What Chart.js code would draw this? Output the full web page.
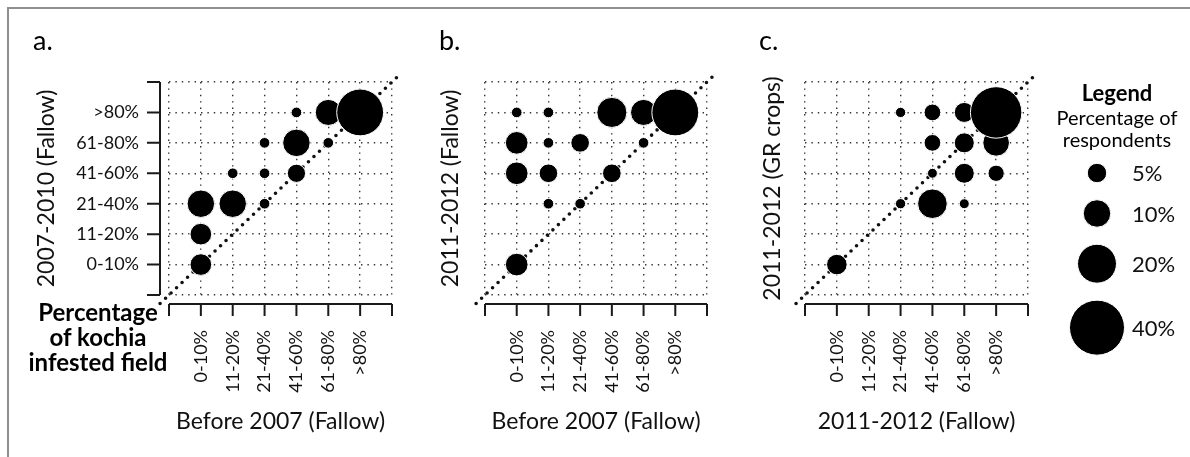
<!DOCTYPE html>
<html>
<head>
<meta charset="utf-8">
<title>Kochia infested field</title>
<script src="https://cdn.jsdelivr.net/npm/chart.js@4.4.0/dist/chart.umd.min.js"></script>
<style>
    body { margin: 0; background: #fff; }
    #wrap { position: relative; width: 1190px; height: 457px; overflow: hidden; font-family: Lato, sans-serif; color: #000; }
    #frame { position: absolute; left: 7px; top: 7px; width: 1300px; height: 600px; border-left: 2px solid #8f8f8f; border-top: 2px solid #8f8f8f; }
    .box { position: absolute; top: 0; height: 457px; }
    .letter { position: absolute; top: 27px; font-size: 27px; line-height: 26px; }
    #note { position: absolute; left: 0; top: 299px; width: 196px; text-align: center; font-weight: bold; font-size: 24px; line-height: 25px; }
    #legendHead { position: absolute; left: 1052px; top: 80px; width: 130px; text-align: center; font-size: 20px; line-height: 22px; }
    #legendHead b { font-size: 22px; display: block; line-height: 26px; }
</style>
</head>
<body>
<div id="wrap">
    <div id="frame"></div>
    <div class="box" style="left:0;width:400px"><canvas id="chartA"></canvas></div>
    <div class="box" style="left:400px;width:320px"><canvas id="chartB"></canvas></div>
    <div class="box" style="left:720px;width:340px"><canvas id="chartC"></canvas></div>
    <div class="box" style="left:1052px;width:138px"><canvas id="chartLegend"></canvas></div>
    <div class="letter" style="left:33px">a.</div>
    <div class="letter" style="left:439px">b.</div>
    <div class="letter" style="left:759px">c.</div>
    <div id="note">Percentage<br>of kochia<br>infested field</div>
    <div id="legendHead"><b>Legend</b>Percentage of<br>respondents</div>
</div>

<script>
const catLabels = ["0-10%", "11-20%", "21-40%", "41-60%", "61-80%", ">80%"];

// [column (x category 1-6), row (y category 1-6), % of respondents]
const panelA = [
    [4, 6, 1.5], [5, 6, 9], [3, 5, 1.5], [4, 5, 10], [5, 5, 1.5],
    [2, 4, 1.5], [3, 4, 1.5], [4, 4, 4.4], [1, 3, 10], [2, 3, 10],
    [3, 3, 1.5], [1, 2, 6.2], [1, 1, 6.2], [6, 6, 29],
];
const panelB = [
    [1, 6, 1.5], [2, 6, 1.5], [4, 6, 12], [5, 6, 9], [1, 5, 6.8],
    [2, 5, 1.5], [3, 5, 4.6], [5, 5, 1.5], [1, 4, 6.8], [2, 4, 4.6],
    [4, 4, 4.6], [2, 3, 1.5], [3, 3, 1.5], [1, 1, 6.8], [6, 6, 29],
];
const panelC = [
    [3, 6, 1.4], [4, 6, 3.7], [5, 6, 5.3], [4, 5, 3.7], [5, 5, 5.3],
    [6, 5, 9.4], [4, 4, 1.3], [5, 4, 5.3], [6, 4, 3.5], [3, 3, 1.4],
    [4, 3, 11.6], [5, 3, 1.3], [1, 1, 5.6], [6, 6, 35],
];
const legendPct = [5, 10, 20, 40];
const legendLabels = ["5%", "10%", "20%", "40%"];

const diagonal = [-0.28, 7.17];

Chart.defaults.font.family = "Lato";
Chart.defaults.color = "#111";

function bubbleRadius(pct) {
    return 4.35 * Math.sqrt(pct);
}

// R style axes: solid line set off from the plot area
const bracketAxes = {
    id: "bracketAxes",
    afterDraw(chart, args, opts) {
        const { ctx, chartArea, scales } = chart;
        const x = scales.x;
        const y = scales.y;
        ctx.save();
        ctx.strokeStyle = "#1a1a1a";
        ctx.lineWidth = 2;
        ctx.beginPath();
        const yb = chartArea.bottom + 9;
        ctx.moveTo(x.getPixelForValue(0), yb);
        ctx.lineTo(x.getPixelForValue(7), yb);
        for (let v = 0; v <= 7; v++) {
            const px = x.getPixelForValue(v);
            ctx.moveTo(px, yb);
            ctx.lineTo(px, yb + 12);
        }
        if (opts.yAxis) {
            const xb = chartArea.left - 9;
            ctx.moveTo(xb, y.getPixelForValue(0));
            ctx.lineTo(xb, y.getPixelForValue(7));
            for (let v = 0; v <= 7; v++) {
                const py = y.getPixelForValue(v);
                ctx.moveTo(xb, py);
                ctx.lineTo(xb - 13, py);
            }
        }
        ctx.stroke();
        ctx.restore();
    },
};

function panelChart(id, cells, cfg) {
    return new Chart(document.getElementById(id), {
        type: "bubble",
        data: {
            datasets: [
                {
                    data: cells.map((c) => ({ x: c[0], y: c[1], r: bubbleRadius(c[2]) })),
                    backgroundColor: "#000",
                    borderColor: "#fff",
                    borderWidth: 1,
                    clip: false,
                    order: 1,
                },
                {
                    type: "line",
                    data: diagonal.map((v) => ({ x: v, y: v })),
                    borderColor: "#111",
                    borderWidth: 3.6,
                    borderDash: [0, 7.6],
                    borderCapStyle: "round",
                    pointRadius: 0,
                    clip: false,
                    order: 2,
                },
            ],
        },
        options: {
            responsive: true,
            maintainAspectRatio: false,
            animation: false,
            events: [],
            layout: { autoPadding: false, padding: { top: 82, right: cfg.padRight, left: 0, bottom: 0 } },
            plugins: {
                legend: { display: false },
                tooltip: { enabled: false },
                bracketAxes: { yAxis: cfg.yAxis },
            },
            scales: {
                x: {
                    type: "linear",
                    min: 0,
                    max: 7,
                    ticks: {
                        stepSize: 1,
                        autoSkip: false,
                        minRotation: 90,
                        maxRotation: 90,
                        padding: 2,
                        font: { size: 18 },
                        callback: (v) => catLabels[v - 1] || "",
                    },
                    grid: { color: "#333", lineWidth: 1.4, tickLength: 33, tickColor: "rgba(0,0,0,0)" },
                    border: { display: false, dash: [1.4, 5] },
                    title: {
                        display: true,
                        text: cfg.xTitle,
                        color: "#111",
                        font: { size: 23 },
                        padding: { top: 0, bottom: 22 },
                    },
                    afterFit: (s) => {
                        s.height = 162;
                        s.paddingLeft = 0;
                        s.paddingRight = 0;
                    },
                },
                y: {
                    type: "linear",
                    min: 0,
                    max: 7,
                    ticks: {
                        stepSize: 1,
                        display: cfg.yAxis,
                        padding: 2,
                        font: { size: 18 },
                        callback: (v) => catLabels[v - 1] || "",
                    },
                    grid: { color: "#333", lineWidth: 1.4, tickLength: 28, tickColor: "rgba(0,0,0,0)" },
                    border: { display: false, dash: [1.4, 5] },
                    title: {
                        display: true,
                        text: cfg.yTitle,
                        color: "#111",
                        font: { size: 23 },
                        padding: { top: cfg.yTitlePad, bottom: 0 },
                    },
                    afterFit: (s) => { s.width = cfg.yWidth; },
                },
            },
        },
        plugins: [bracketAxes],
    });
}

panelChart("chartA", panelA, {
    xTitle: "Before 2007 (Fallow)", yTitle: "2007-2010 (Fallow)",
    yAxis: true, yWidth: 169, padRight: 8, yTitlePad: 33,
});
panelChart("chartB", panelB, {
    xTitle: "Before 2007 (Fallow)", yTitle: "2011-2012 (Fallow)",
    yAxis: false, yWidth: 85, padRight: 13, yTitlePad: 37,
});
panelChart("chartC", panelC, {
    xTitle: "2011-2012 (Fallow)", yTitle: "2011-2012 (GR crops)",
    yAxis: false, yWidth: 85, padRight: 32, yTitlePad: 39,
});

// legend keys stacked from their own radii
const legendGap = 17;
const legendY = [];
legendPct.forEach((p, i) => {
    if (i === 0) legendY.push(173);
    else legendY.push(legendY[i - 1] + bubbleRadius(legendPct[i - 1]) + bubbleRadius(p) + legendGap);
});

const legendText = {
    id: "legendText",
    afterDatasetsDraw(chart) {
        const { ctx } = chart;
        const meta = chart.getDatasetMeta(0);
        ctx.save();
        ctx.fillStyle = "#111";
        ctx.font = "22px Lato";
        ctx.textAlign = "left";
        ctx.textBaseline = "middle";
        meta.data.forEach((el, i) => {
            ctx.fillText(legendLabels[i], el.x + 35, el.y + 1);
        });
        ctx.restore();
    },
};

new Chart(document.getElementById("chartLegend"), {
    type: "bubble",
    data: {
        datasets: [
            {
                data: legendPct.map((p, i) => ({ x: 45, y: legendY[i], r: bubbleRadius(p) })),
                backgroundColor: "#000",
                borderColor: "#fff",
                borderWidth: 1,
                clip: false,
            },
        ],
    },
    options: {
        responsive: true,
        maintainAspectRatio: false,
        animation: false,
        events: [],
        layout: { autoPadding: false, padding: 0 },
        plugins: { legend: { display: false }, tooltip: { enabled: false } },
        scales: {
            x: { type: "linear", min: 0, max: 138, display: false },
            y: { type: "linear", min: 0, max: 457, reverse: true, display: false },
        },
    },
    plugins: [legendText],
});
</script>
</body>
</html>
